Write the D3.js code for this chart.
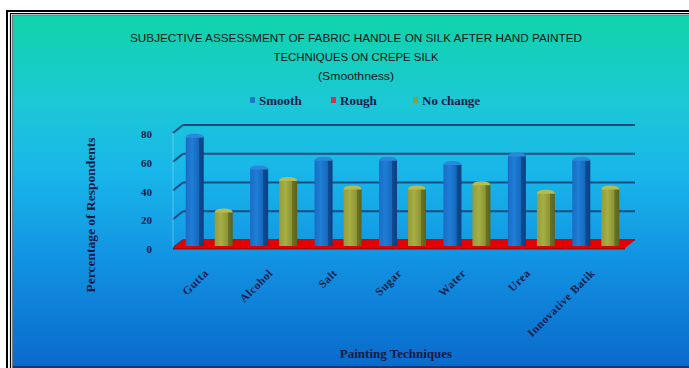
<!DOCTYPE html>
<html><head><meta charset="utf-8">
<script src="https://cdn.jsdelivr.net/npm/d3@7"></script>
<style>html,body{margin:0;padding:0;background:#fff;}svg{display:block;}</style>
</head><body>
<script>
const categories = ["Gutta","Alcohol","Salt","Sugar","Water","Urea","Innovative Batik"];
const seriesNames = ["Smooth","Rough","No change"];
const smooth   = [76,54,60,60,57,63,60];
const rough    = [0,0,0,0,0,0,0];
const noChange = [24,46,40,40,43,37,40];
const yTicks = [0,20,40,60,80];
const titleLines = ["SUBJECTIVE ASSESSMENT OF FABRIC HANDLE ON SILK  AFTER HAND PAINTED","TECHNIQUES  ON CREPE SILK","(Smoothness)"];
const yTitle = "Percentage of Respondents";
const xTitle = "Painting Techniques";

const W = 689, H = 368;
const svg = d3.select("body").append("svg").attr("width", W).attr("height", H);
const defs = svg.append("defs");

const bg = defs.append("linearGradient").attr("id","bg").attr("x1",0).attr("y1",0).attr("x2",0).attr("y2",1);
[[0,"#10d4aa"],[0.25,"#1cc8d6"],[0.45,"#18b6ea"],[0.7,"#1292e2"],[1,"#0a6acc"]].forEach(s=>bg.append("stop").attr("offset",s[0]).attr("stop-color",s[1]));

svg.append("rect").attr("x",0).attr("y",0).attr("width",W).attr("height",H).attr("fill","#fff");
svg.append("rect").attr("x",13).attr("y",15).attr("width",W-13).attr("height",H-17).attr("fill","url(#bg)");
svg.append("path").attr("d",`M7,${H} V11 H${W}`).attr("fill","none").attr("stroke","#000").attr("stroke-width",2);
svg.append("path").attr("d",`M10.5,${H} V13.5 H${W}`).attr("fill","none").attr("stroke","#000").attr("stroke-width",1.2);
svg.append("path").attr("d",`M12.5,${H} V15 H${W}`).attr("fill","none").attr("stroke","#6a7a80").attr("stroke-width",1.2);
svg.append("rect").attr("x",13).attr("y",H-2).attr("width",W-13).attr("height",2).attr("fill","#0a3a80");

function hgrad(id, stops){
  const g = defs.append("linearGradient").attr("id",id).attr("x1",0).attr("y1",0).attr("x2",1).attr("y2",0);
  stops.forEach(s=>g.append("stop").attr("offset",s[0]).attr("stop-color",s[1]));
}
hgrad("gSmooth",[[0,"#1a6cc4"],[0.35,"#1f7ed6"],[0.72,"#1668bc"],[0.74,"#0e4c94"],[1,"#0c3f80"]]);
hgrad("gRough",[[0,"#e00000"],[1,"#a00000"]]);
hgrad("gNo",[[0,"#949c38"],[0.35,"#a6ae46"],[0.72,"#8c9434"],[0.74,"#6a7424"],[1,"#5a621e"]]);
const fills = {"Smooth":"url(#gSmooth)","Rough":"url(#gRough)","No change":"url(#gNo)"};
const caps = {"Smooth":"#2a88dc","Rough":"#e00000","No change":"#b4bc52"};
const legendColors = {"Smooth":"#1a78c8","Rough":"#e03040","No change":"#8c9a40"};

const x = d3.scaleBand().domain(categories).range([177,628]).padding(0);
const xs = d3.scalePoint().domain(seriesNames).range([-14.5,14.5]);
const y = d3.scaleLinear().domain([0,80]).range([246,131]);
const dX = 10, dY = -8, backShiftY = -6;

svg.append("g").selectAll("line").data(yTicks).join("line")
  .attr("x1",183).attr("x2",635)
  .attr("y1",d=>y(d)+backShiftY).attr("y2",d=>y(d)+backShiftY)
  .attr("stroke","#1d4c7c").attr("stroke-width",2);
svg.append("g").selectAll("line").data(yTicks).join("line")
  .attr("x1",173).attr("x2",183)
  .attr("y1",d=>y(d)+2).attr("y2",d=>y(d)+backShiftY)
  .attr("stroke","#1d4c7c").attr("stroke-width",2);
svg.append("line").attr("x1",173).attr("x2",173).attr("y1",y(80)+2).attr("y2",y(0)+2)
  .attr("stroke","#9fe0f0").attr("stroke-opacity",0.5).attr("stroke-width",1);

const fx0 = 173, fx1 = 625, fy = y(0)+2;
svg.append("path")
  .attr("d",`M${fx0},${fy} L${fx1},${fy} L${fx1+dX},${fy+dY} L${fx0+dX},${fy+dY} Z`)
  .attr("fill","#e40000");
svg.append("rect").attr("x",fx0).attr("y",fy).attr("width",fx1-fx0).attr("height",1.5).attr("fill","#b00000");

const yAxis = d3.axisLeft(y).tickValues(yTicks).tickSize(0).tickPadding(0).tickFormat(d3.format("d"));
const ya = svg.append("g").attr("transform","translate(152,3)").call(yAxis);
ya.select(".domain").remove();
ya.selectAll("text").attr("font-family","Liberation Serif").attr("font-weight","bold").attr("font-size",11).attr("fill","#17204a");

const data = categories.map((c,i)=>({c, vals:[{s:"Smooth",v:smooth[i]},{s:"Rough",v:rough[i]},{s:"No change",v:noChange[i]}]}));
const bw = 18;
const grp = svg.append("g").selectAll("g").data(data).join("g")
  .attr("transform",d=>`translate(${x(d.c)+x.bandwidth()/2},0)`);
const bars = grp.selectAll("g").data(d=>d.vals.filter(v=>v.v>0)).join("g");
bars.append("rect")
  .attr("x",d=>xs(d.s)-bw/2).attr("width",bw)
  .attr("y",d=>y(d.v)).attr("height",d=>y(0)-y(d.v))
  .attr("fill",d=>fills[d.s]);
bars.append("path")
  .attr("d",d=>{const cx=xs(d.s), t=y(d.v); return `M${cx-bw/2},${t+1} Q${cx-bw/2},${t-3} ${cx},${t-3} Q${cx+bw/2},${t-3} ${cx+bw/2},${t+1} Z`;})
  .attr("fill",d=>caps[d.s]);

svg.append("g").selectAll("text").data(categories).join("text")
  .attr("transform",d=>`translate(${x(d)+x.bandwidth()/2-3},271) rotate(-45)`)
  .attr("text-anchor","end").attr("dy","0.35em")
  .attr("font-family","Liberation Serif").attr("font-weight","bold").attr("font-size",11.5)
  .attr("letter-spacing",0.5)
  .attr("fill","#17204a").text(d=>d);

const tY = [42, 61, 80];
const tLen = [452, 165, 76];
svg.append("g").selectAll("text").data(titleLines).join("text")
  .attr("x",356).attr("y",(d,i)=>tY[i]).attr("text-anchor","middle")
  .attr("font-family","Liberation Sans").attr("font-size",10.5)
  .attr("textLength",(d,i)=>tLen[i]).attr("lengthAdjust","spacingAndGlyphs")
  .attr("fill","#141414").text(d=>d);

const legX = [252,333,415];
const lg = svg.append("g").selectAll("g").data(seriesNames).join("g")
  .attr("transform",(d,i)=>`translate(${legX[i]},101)`);
lg.append("rect").attr("x",-2).attr("y",-4).attr("width",5).attr("height",6).attr("fill",d=>legendColors[d]);
lg.append("text").attr("x",7).attr("y",3.5)
  .attr("font-family","Liberation Serif").attr("font-weight","bold").attr("font-size",13)
  .attr("fill","#17204a").text(d=>d);

svg.append("text").attr("transform","translate(95,215) rotate(-90)").attr("text-anchor","middle")
  .attr("font-family","Liberation Serif").attr("font-weight","bold").attr("font-size",13.5)
  .attr("fill","#141a44").text(yTitle);
svg.append("text").attr("x",396).attr("y",358).attr("text-anchor","middle")
  .attr("font-family","Liberation Serif").attr("font-weight","bold").attr("font-size",13)
  .attr("fill","#141a44").text(xTitle);
</script>
</body></html>
